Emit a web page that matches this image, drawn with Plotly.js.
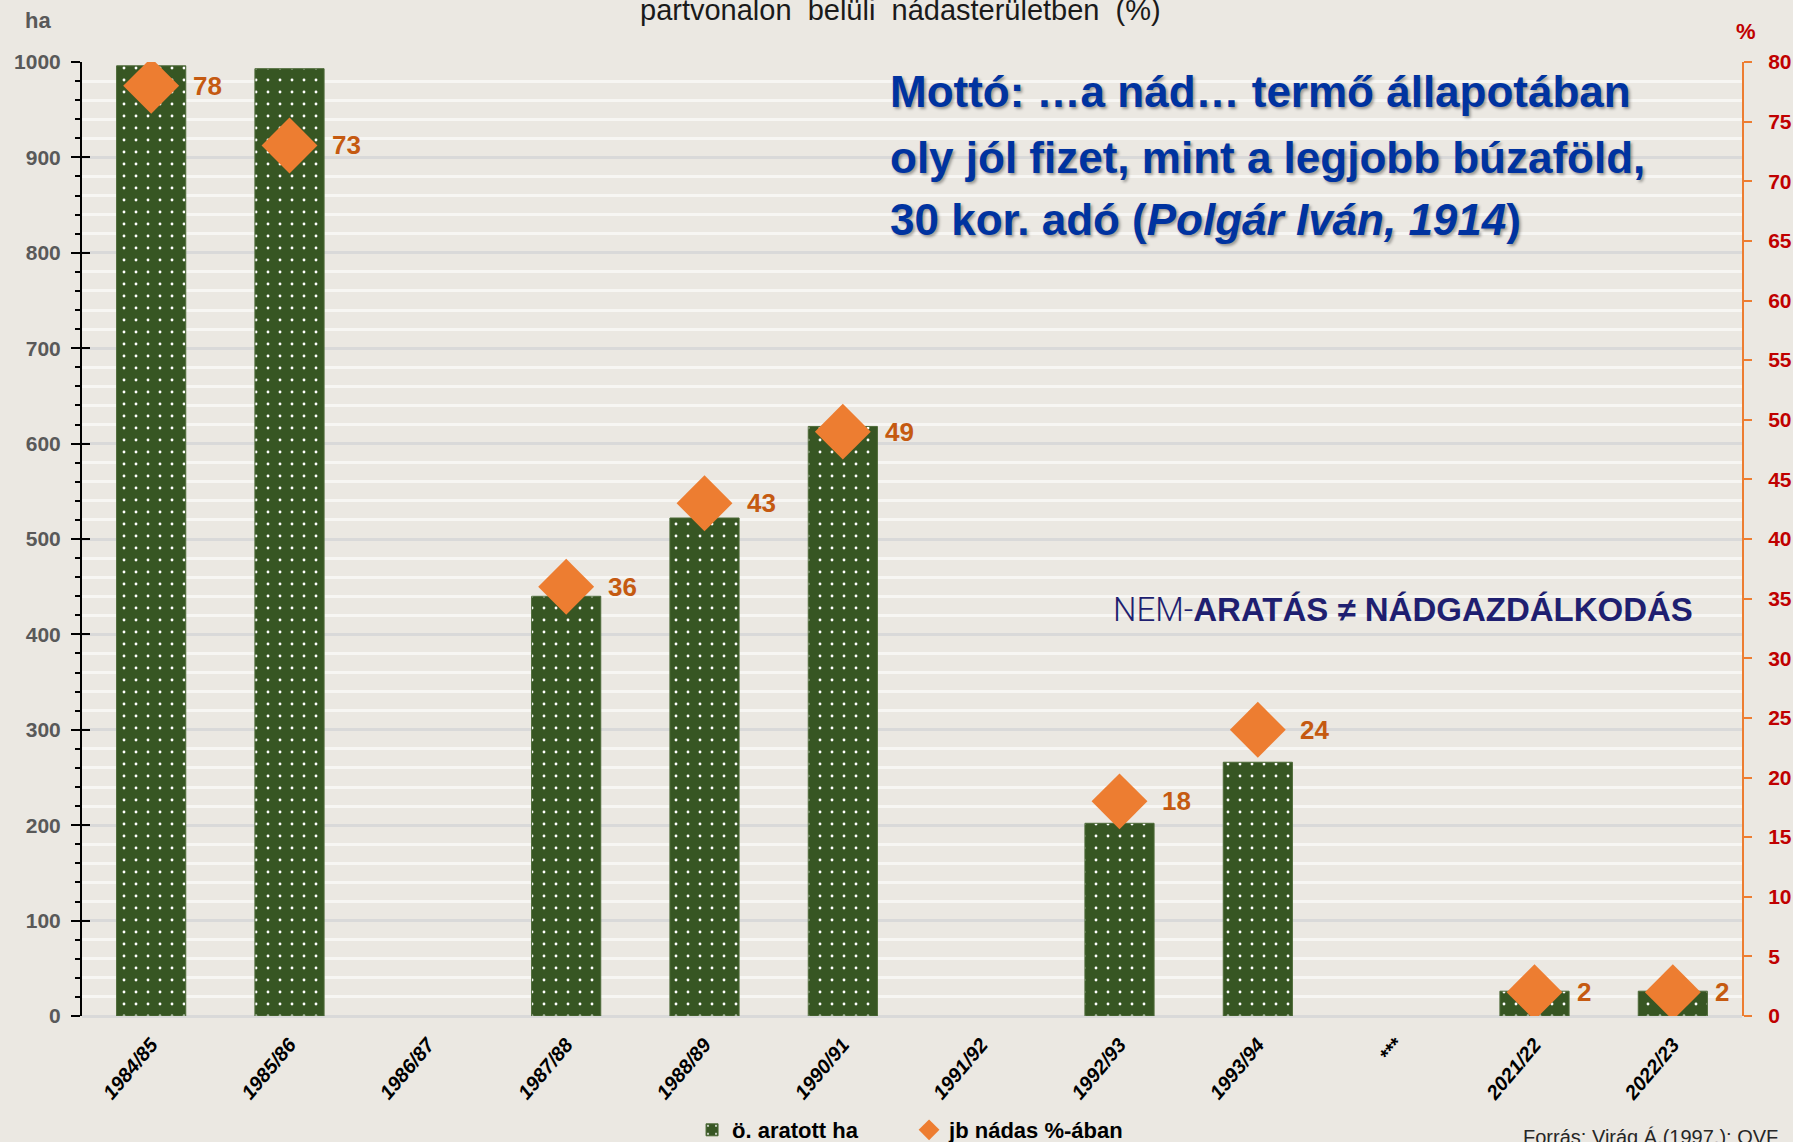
<!DOCTYPE html>
<html>
<head>
<meta charset="utf-8">
<script src="https://cdn.plot.ly/plotly-3.0.1.min.js"></script>
<style>html,body{margin:0;padding:0;background:#ebe8e2;}#chart{width:1793px;height:1142px;}</style>
</head>
<body>
<div id="chart"></div>
<script>
const categories = ["1984/85","1985/86","1986/87","1987/88","1988/89","1990/91","1991/92","1992/93","1993/94","***","2021/22","2022/23"];
const harvestedHa = [996, 993, null, 440, 522, 618, null, 202, 266, null, 26, 26];
const reedPercent = [78, 73, null, 36, 43, 49, null, 18, 24, null, 2, 2];
const seriesNames = ["ö. aratott ha", "jb nádas %-ában"];
const mottoLines = [
  'Mottó: …a nád… termő állapotában',
  'oly jól fizet, mint a legjobb búzaföld,',
  '30 kor. adó (<i>Polgár Iván, 1914</i>)'
];

const FONT = "'Liberation Sans Narrow', 'Arial Narrow', 'Liberation Sans', Arial, sans-serif";

const traces = [
  {
    type: 'bar',
    name: seriesNames[0],
    x: categories,
    y: harvestedHa,
    width: 0.5,
    marker: {
      color: '#375623',
      line: {color: '#4d6a38', width: 1},
      pattern: {shape: '.', bgcolor: '#375623', fgcolor: '#ffffff', size: 12, solidity: 0.045, fillmode: 'replace'}
    },
    hoverinfo: 'x+y'
  },
  {
    type: 'scatter',
    mode: 'markers',
    name: seriesNames[1],
    x: categories,
    y: reedPercent,
    yaxis: 'y2',
    marker: {symbol: 'diamond', size: 43, color: '#ed7d31', line: {width: 0}},
    hoverinfo: 'x+y'
  },
  {
    type: 'scatter', mode: 'markers', x: [], y: [], yaxis: 'y3',
    showlegend: false, hoverinfo: 'skip'
  }
];

const annotations = [];
categories.forEach((c, i) => {
  if (reedPercent[i] !== null) {
    annotations.push({
      x: c, y: reedPercent[i], xref: 'x', yref: 'y2',
      text: String(reedPercent[i]), showarrow: false,
      xanchor: 'left', yanchor: 'middle', xshift: 40,
      font: {family: FONT, size: 26, color: '#c55a11', weight: 'bold'}
    });
  }
});

const mottoY = [0.9691, 0.9004, 0.8344];
mottoLines.forEach((t, i) => {
  annotations.push({
    xref: 'paper', yref: 'paper', x: 0.4855, y: mottoY[i], xanchor: 'left', yanchor: 'middle', align: 'left',
    showarrow: false, text: t,
    font: {family: FONT, size: 44, color: '#0033a0', weight: 'bold', shadow: '2px 2px 3px rgba(0,0,0,0.35)'}
  });
});

annotations.push(
  {xref: 'paper', yref: 'paper', x: 0.7958, y: 0.4266, xanchor: 'center', yanchor: 'middle', showarrow: false,
   text: '<span style="font-weight:300;font-family:Roboto">NEM-</span><b>ARATÁS ≠ NÁDGAZDÁLKODÁS</b>',
   font: {family: FONT, size: 33, color: '#1f1f70'}},
  {xref: 'paper', yref: 'paper', x: 0.335, y: 1.0356, xanchor: 'left', yanchor: 'bottom', showarrow: false,
   text: 'partvonalon  belüli  nádasterületben  (%)',
   font: {family: FONT, size: 29, color: '#1a1a1a'}},
  {xref: 'paper', yref: 'paper', x: -0.0265, y: 1.0440, xanchor: 'center', yanchor: 'middle', showarrow: false,
   text: 'ha', font: {family: FONT, size: 22, color: '#595959', weight: 'bold'}},
  {xref: 'paper', yref: 'paper', x: 1.0024, y: 1.0315, xanchor: 'center', yanchor: 'middle', showarrow: false,
   text: '%', font: {family: FONT, size: 22, color: '#c00000', weight: 'bold'}},
  {xref: 'paper', yref: 'paper', x: 0.8668, y: -0.1132, xanchor: 'left', yanchor: 'top', showarrow: false,
   text: 'Forrás: Virág Á.(1997.); OVF', font: {family: FONT, size: 20, color: '#262626'}}
);

const layout = {
  width: 1793, height: 1142,
  paper_bgcolor: '#ebe8e2', plot_bgcolor: '#ebe8e2',
  margin: {l: 82, r: 51, t: 62, b: 126, autoexpand: false},
  showlegend: true,
  legend: {orientation: 'h', x: 0.3675, y: -0.1195, xanchor: 'left', yanchor: 'middle',
           bgcolor: 'rgba(0,0,0,0)', font: {family: FONT, size: 22, color: '#000', weight: 'bold'},
           itemwidth: 30, entrywidth: 172, entrywidthmode: 'pixels'},
  xaxis: {
    type: 'category', range: [-0.5, 11.5], fixedrange: true,
    showgrid: false, zeroline: false, showline: false,
    ticks: '', tickangle: -50, ticklabelstandoff: 12,
    tickfont: {family: FONT, size: 20, color: '#000', weight: 'bold', style: 'italic'}
  },
  yaxis: {
    range: [0, 1000], dtick: 100, fixedrange: true,
    showline: true, linecolor: '#000', linewidth: 2,
    ticks: 'outside', ticklen: 9, tickwidth: 2, tickcolor: '#000',
    showgrid: true, gridcolor: '#d9d9d9', gridwidth: 3,
    zeroline: true, zerolinecolor: '#d9d9d9', zerolinewidth: 3,
    ticklabelstandoff: 6,
    tickfont: {family: FONT, size: 21, color: '#595959', weight: 'bold'},
    minor: {dtick: 20, ticks: 'outside', ticklen: 5, tickwidth: 2, tickcolor: '#000', showgrid: true, gridcolor: '#f7f6f3', gridwidth: 3}
  },
  yaxis2: {
    overlaying: 'y', side: 'right', range: [0, 80], dtick: 5, fixedrange: true,
    showgrid: false, zeroline: false,
    showline: true, linecolor: '#ed7d31', linewidth: 2,
    ticks: 'outside', ticklen: 8, tickwidth: 2, tickcolor: '#ed7d31',
    ticklabelstandoff: 12,
    tickfont: {family: FONT, size: 21, color: '#c00000', weight: 'bold'}
  },
  yaxis3: {
    overlaying: 'y', side: 'left', range: [0, 1000], dtick: 100, fixedrange: true,
    showgrid: false, zeroline: false, showline: false, showticklabels: false,
    ticks: 'inside', ticklen: 8, tickwidth: 2, tickcolor: '#000'
  },
  annotations: annotations
};

Plotly.newPlot('chart', traces, layout, {displayModeBar: false, staticPlot: true});
</script>
</body>
</html>
